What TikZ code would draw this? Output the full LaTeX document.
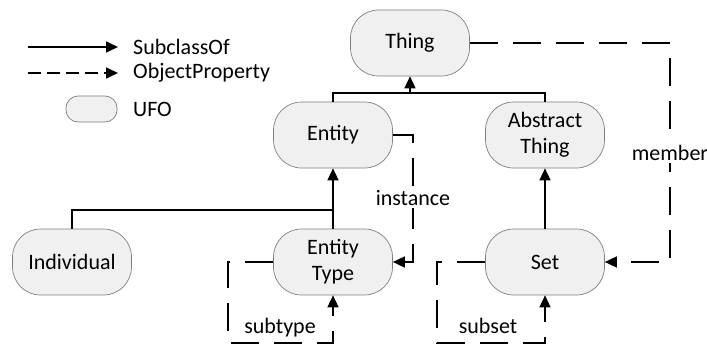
\documentclass[tikz,border=0pt]{standalone}
\usepackage{fontspec}
\setmainfont{Carlito}
\usetikzlibrary{arrows.meta}
\newcommand{\fs}{\fontsize{22}{26}\selectfont}
\begin{document}
\begin{tikzpicture}[x=1pt,y=-1pt,
  ufo/.style={draw=black!50, line width=0.7pt, fill=black!6, rounded corners=28pt,
    minimum width=119pt, minimum height=66pt, align=center, font=\fs, inner sep=0pt},
  sub/.style={line width=1.6pt, -{Triangle[length=12pt,width=11pt]}},
  prop/.style={sub, dash pattern=on 28pt off 15pt},
  plain/.style={line width=1.6pt},
  lbl/.style={fill=white, inner sep=2pt, font=\fs},
  txt/.style={anchor=west, inner sep=0pt, font=\fs}]
\useasboundingbox (0,0) rectangle (707,345);

% legend
\coordinate (l1a) at (28,47);
\coordinate (l1b) at (118,47);
\coordinate (l2a) at (28,73);
\coordinate (l2b) at (118,73);
\draw[sub] (l1a) -- (l1b);
\draw[sub, dash pattern=on 13pt off 6pt] (l2a) -- (l2b);
\node[txt] (t1) at (133,47) {SubclassOf};
\node[txt] (t2) at (133,73) {ObjectProperty};
\node[draw=black!50, line width=0.7pt, fill=black!6, rounded corners=12pt,
  minimum width=51pt, minimum height=26pt, inner sep=0pt] (lufo) at (91.5,109) {};
\node[txt] (t3) at (133,109) {UFO};

% nodes
\node[ufo] (thing) at (410,43) {Thing};
\node[ufo] (entity) at (333,135) {Entity};
\node[ufo] (abs) at (545,135) {Abstract\\Thing};
\node[ufo] (ind) at (72,262) {Individual};
\node[ufo] (etype) at (333,262) {Entity\\Type};
\node[ufo] (set) at (545,262) {Set};

% subclass connectors
\coordinate (j1) at (410,93);
\coordinate (j2) at (333,210);
\draw[plain] (entity.north) |- (j1) -| (abs.north);
\draw[sub] (j1) -- (thing.south);
\draw[plain] (ind.north) |- (j2);
\draw[sub] (etype.north) -- (entity.south);
\draw[sub] (set.north) -- (abs.south);

% object properties
\coordinate (m1) at (670,43);
\coordinate (m2) at (670,262);
\draw[prop] (thing.east) -- (m1) -- (m2) -- (set.east);
\node[lbl] (member) at (670,153) {member};

\coordinate (i1) at (413,135);
\coordinate (i2) at (413,262);
\draw[prop] (entity.east) -- (i1) -- (i2) -- (etype.east);
\node[lbl] (instance) at (413,198) {instance};

\coordinate (s1) at (228,262);
\coordinate (s2) at (228,343);
\coordinate (s3) at (333,343);
\draw[prop] (etype.west) -- (s1) -- (s2) -- (s3) -- (etype.south);
\node[font=\fs, inner sep=0pt] (subtype) at (280,328) {subtype};

\coordinate (u1) at (437,262);
\coordinate (u2) at (437,343);
\coordinate (u3) at (545,343);
\draw[prop] (set.west) -- (u1) -- (u2) -- (u3) -- (set.south);
\node[font=\fs, inner sep=0pt] (subset) at (488,326) {subset};
\end{tikzpicture}
\end{document}
